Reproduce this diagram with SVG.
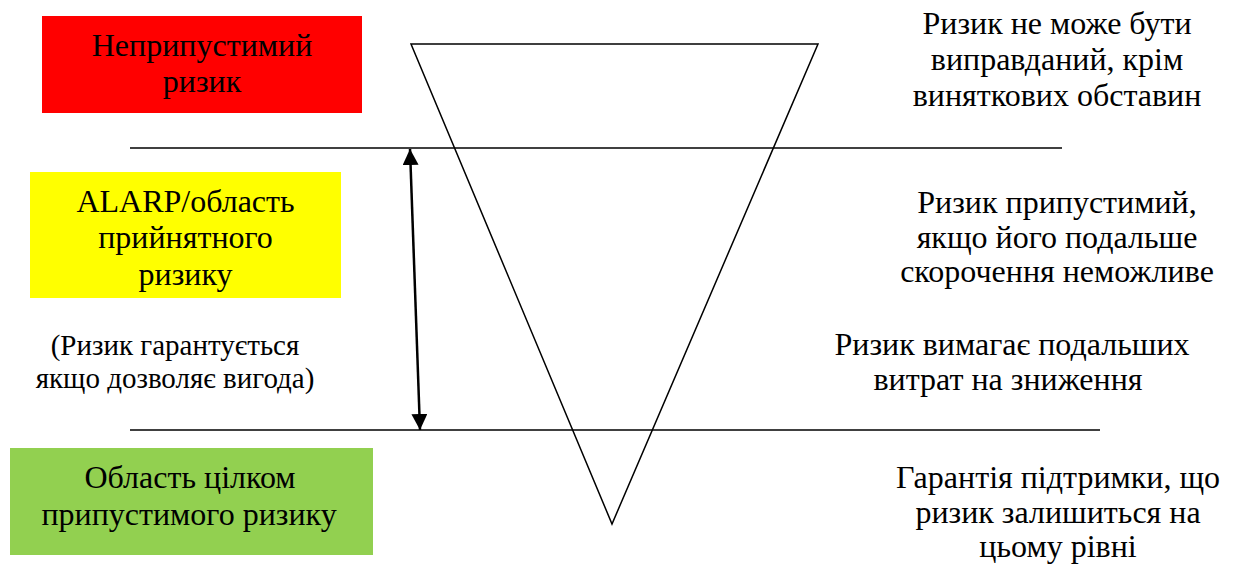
<svg xmlns="http://www.w3.org/2000/svg" width="1237" height="565" viewBox="0 0 1237 565">
<style>
text{font-family:"Liberation Serif","Times New Roman",serif;font-size:32px;fill:#000;text-anchor:middle}
.note text{font-size:29px}
.ln{stroke:#000;stroke-width:1.5;fill:none}
</style>
<defs>
<marker id="ah2" viewBox="0 0 16 16" refX="16" refY="8" markerWidth="16" markerHeight="16" markerUnits="userSpaceOnUse" orient="auto-start-reverse">
<path d="M0,0 L16,8 L0,16 z" fill="#000"/>
</marker>
</defs>
<rect width="1237" height="565" fill="#fff"/>
<g id="triangle"><polygon class="ln" points="411,44 818,44 612,524"/></g>
<g id="connectors">
<line class="ln" x1="130" y1="148" x2="1062" y2="148"/>
<line class="ln" x1="130" y1="430" x2="1100" y2="430"/>
<line x1="410" y1="149" x2="420" y2="430" stroke="#000" stroke-width="2.5" marker-start="url(#ah2)" marker-end="url(#ah2)"/>
</g>
<g id="unacceptable">
<rect x="42" y="16" width="320" height="97" fill="#ff0000"/>
<text x="202" y="56">Неприпустимий</text>
<text x="202" y="92">ризик</text>
</g>
<g id="alarp">
<rect x="30" y="172" width="311" height="126" fill="#ffff00"/>
<text x="185.5" y="212">ALARP/область</text>
<text x="185.5" y="248">прийнятного</text>
<text x="185.5" y="285">ризику</text>
</g>
<g id="alarp-note" class="note">
<text x="175" y="355">(Ризик гарантується</text>
<text x="175" y="388">якщо дозволяє вигода)</text>
</g>
<g id="acceptable">
<rect x="10" y="448" width="363" height="107" fill="#92d050"/>
<text x="190" y="488">Область цілком</text>
<text x="189" y="525">припустимого ризику</text>
</g>
<g id="desc1">
<text x="1057" y="34">Ризик не може бути</text>
<text x="1057" y="70">виправданий, крім</text>
<text x="1057" y="106">виняткових обставин</text>
</g>
<g id="desc2">
<text x="1057" y="213">Ризик припустимий,</text>
<text x="1057" y="248">якщо його подальше</text>
<text x="1057" y="282">скорочення неможливе</text>
</g>
<g id="desc3">
<text x="1012" y="355">Ризик вимагає подальших</text>
<text x="1008" y="390">витрат на зниження</text>
</g>
<g id="desc4">
<text x="1058" y="488">Гарантія підтримки, що</text>
<text x="1058" y="523">ризик залишиться на</text>
<text x="1058" y="557">цьому рівні</text>
</g>
</svg>
